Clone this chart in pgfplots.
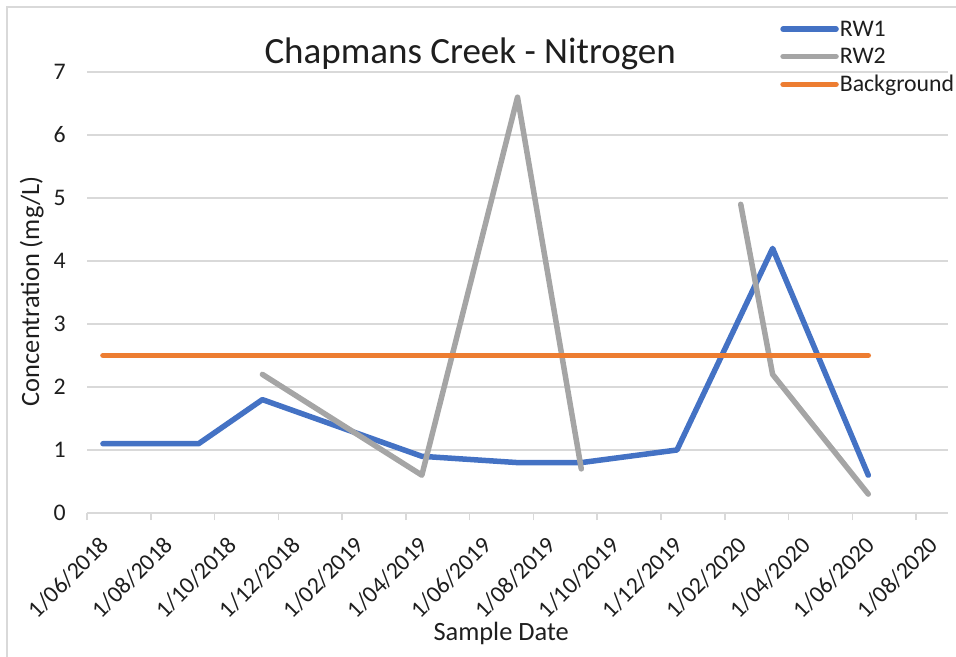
\documentclass[border=0pt]{standalone}
\usepackage{fontspec}
\setmainfont{Carlito}
\usepackage{pgfplots}
\pgfplotsset{compat=1.18}
\definecolor{rwblue}{HTML}{4472C4}
\definecolor{rwgray}{HTML}{A5A5A5}
\definecolor{bgorange}{HTML}{ED7D31}
\definecolor{gridc}{HTML}{D9D9D9}
\definecolor{txt}{HTML}{1E1E1E}
\begin{document}
\begin{tikzpicture}
\path[use as bounding box] (0bp,0bp) rectangle (956bp,657bp);
\draw[gridc, line width=1.5bp] (7bp,-20bp) rectangle (980bp,650bp);
\begin{axis}[
  at={(87bp,144bp)}, anchor=south west,
  scale only axis, width=861bp, height=441bp,
  xmin=0, xmax=27, ymin=0, ymax=7,
  axis x line*=bottom, axis y line*=left,
  x axis line style={gridc, line width=1.5bp},
  y axis line style={draw=none},
  xtick={0,2,...,26},
  xticklabels={1/06/2018,1/08/2018,1/10/2018,1/12/2018,1/02/2019,1/04/2019,1/06/2019,1/08/2019,1/10/2019,1/12/2019,1/02/2020,1/04/2020,1/06/2020,1/08/2020},
  ytick={0,1,...,7},
  tick align=outside,
  major tick length=7bp,
  xtick style={gridc, line width=1.5bp},
  ytick style={draw=none},
  ymajorgrids,
  major grid style={gridc, line width=1.5bp},
  /pgf/number format/assume math mode=true,
  tick label style={font=\fontsize{23.8bp}{28bp}\selectfont, text=txt},
  xticklabel style={xshift=18bp, yshift=-21bp, rotate=45, anchor=east, inner sep=0pt},
  yticklabel style={anchor=east, inner sep=0pt, xshift=-14bp},
  title={Chapmans Creek - Nitrogen},
  title style={at={(0.445,1)}, anchor=base, yshift=3bp, font=\fontsize{37bp}{44bp}\selectfont, text=txt},
  xlabel={Sample Date},
  xlabel style={at={(axis description cs:0.481,0)}, anchor=base, yshift=-127bp, font=\fontsize{26.4bp}{31bp}\selectfont, text=txt},
  ylabel={Concentration (mg/L)},
  ylabel style={at={(axis description cs:0,0.503)}, anchor=base, yshift=48bp, font=\fontsize{26.4bp}{31bp}\selectfont, text=txt},
  legend style={at={(axis description cs:0.805,1.119)}, anchor=north west, draw=none, fill=none,
    inner sep=0pt, font=\fontsize{23.8bp}{28bp}\selectfont, text=txt, row sep=8.5bp,
    nodes={inner sep=1bp}},
  legend cell align=left,
  legend image code/.code={\draw[#1, line cap=round] (0bp,0bp) -- (53bp,0bp);},
  unbounded coords=jump,
  every axis plot/.append style={line width=5.5bp, line cap=round, line join=round},
]
\addplot[rwblue] coordinates {(0.5,1.1) (3.5,1.1) (5.5,1.8) (10.5,0.9) (13.5,0.8) (15.5,0.8) (18.5,1.0) (21.5,4.2) (24.5,0.6)};
\addlegendentry{RW1}
\addplot[rwgray] coordinates {(5.5,2.2) (10.5,0.6) (13.5,6.6) (15.5,0.7) (18.5,nan) (20.5,4.9) (21.5,2.2) (24.5,0.3)};
\addlegendentry{RW2}
\addplot[bgorange] coordinates {(0.5,2.5) (24.5,2.5)};
\addlegendentry{Background}
\end{axis}
\end{tikzpicture}
\end{document}
